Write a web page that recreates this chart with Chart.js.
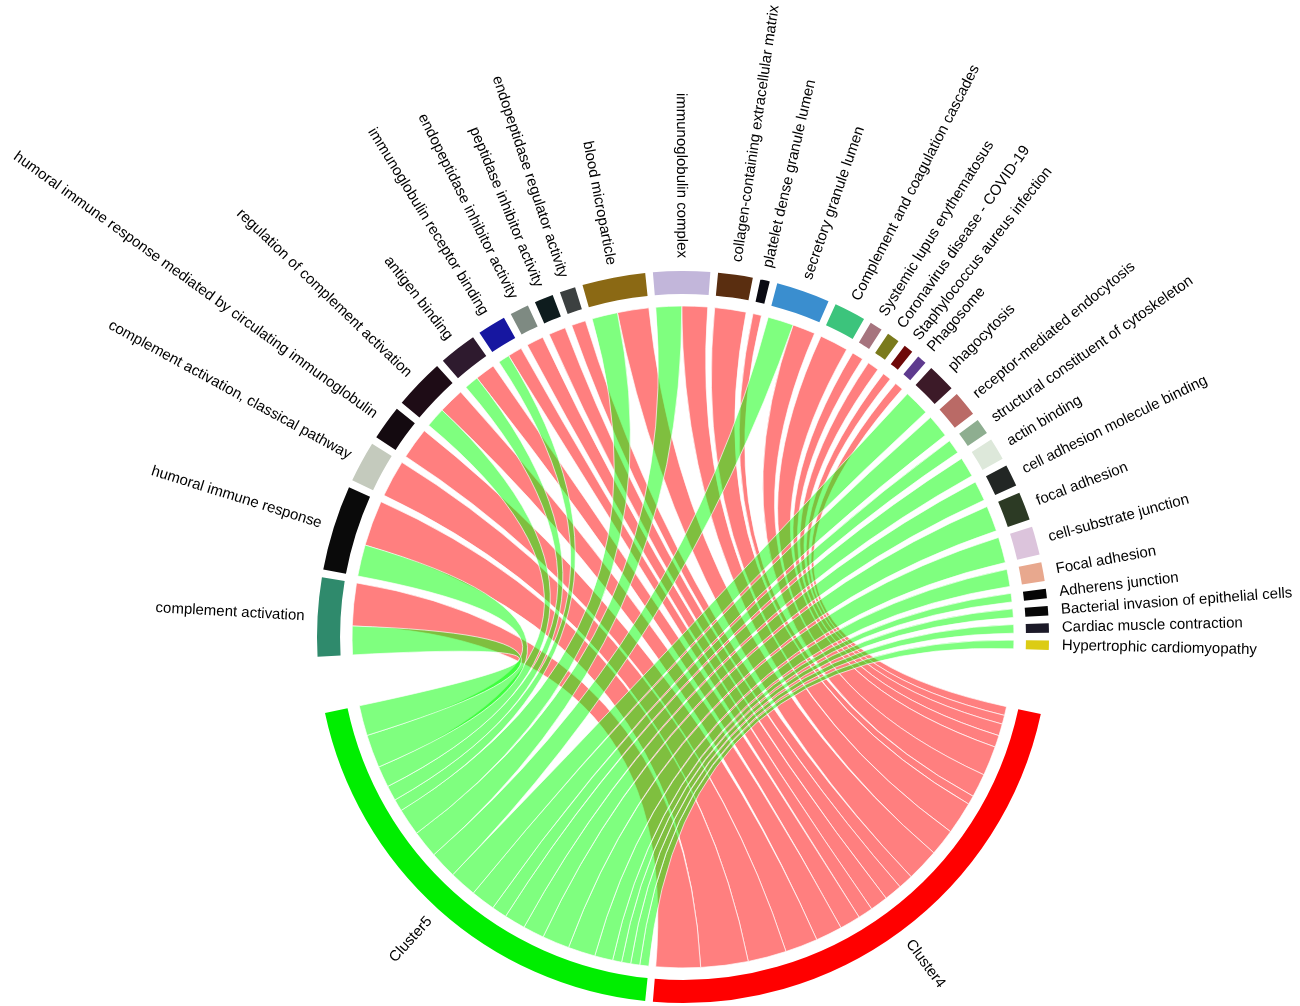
<!DOCTYPE html>
<html>
<head>
<meta charset="utf-8">
<title>Cluster enrichment chord diagram</title>
<script src="https://cdn.jsdelivr.net/npm/chart.js@4.4.1/dist/chart.umd.min.js"></script>
<style>
  html, body { margin: 0; padding: 0; background: #fff; }
  #wrap { width: 1300px; height: 1006px; position: relative; }
</style>
</head>
<body>
<div id="wrap"><canvas id="chord"></canvas></div>
<script>
// terms, clockwise from the left
const terms = [
  'complement activation',
  'humoral immune response',
  'complement activation, classical pathway',
  'humoral immune response mediated by circulating immunoglobulin',
  'regulation of complement activation',
  'antigen binding',
  'immunoglobulin receptor binding',
  'endopeptidase inhibitor activity',
  'peptidase inhibitor activity',
  'endopeptidase regulator activity',
  'blood microparticle',
  'immunoglobulin complex',
  'collagen-containing extracellular matrix',
  'platelet dense granule lumen',
  'secretory granule lumen',
  'Complement and coagulation cascades',
  'Systemic lupus erythematosus',
  'Coronavirus disease - COVID-19',
  'Staphylococcus aureus infection',
  'Phagosome',
  'phagocytosis',
  'receptor-mediated endocytosis',
  'structural constituent of cytoskeleton',
  'actin binding',
  'cell adhesion molecule binding',
  'focal adhesion',
  'cell-substrate junction',
  'Focal adhesion',
  'Adherens junction',
  'Bacterial invasion of epithelial cells',
  'Cardiac muscle contraction',
  'Hypertrophic cardiomyopathy'
];

// link sizes
const toCluster4 = [15, 16, 13, 11, 9, 7, 5, 6, 6, 5, 11, 9, 11, 3, 8, 10, 4, 4, 3, 3,
                    0, 0, 0, 0, 0, 0, 0, 0, 0, 0, 0, 0];
const toCluster5 = [10, 11, 0, 0, 7, 5, 4, 0, 0, 0, 9, 9, 0, 0, 9, 0, 0, 0, 0, 0,
                    9, 8, 5, 7, 7, 9, 9, 6, 3, 3, 3, 3];

const termColors = [
  '#2f8a6c', '#0a0a0a', '#c4cabd', '#140a10', '#1e0c16', '#2e1a2e', '#1616a0', '#7e8a82',
  '#0e1c1e', '#3c4040', '#8b6914', '#c2b6da', '#5a2e10', '#0a0a12', '#3a8ecf', '#3cc47c',
  '#a6747e', '#7a7a1c', '#6e0808', '#5e3a8e', '#3c1a28', '#ba6a66', '#8eae90', '#dde8da',
  '#222624', '#2c3a24', '#dcc4dc', '#e8a88e', '#050505', '#080808', '#1c1a28', '#dccc14'
];

const clusters = ['Cluster4', 'Cluster5'];
const clusterSizes = [165, 144];
const clusterColors = ['#ff0000', '#00ee00'];
const linkColors = ['rgba(255, 0, 0, 0.5)', 'rgba(0, 255, 0, 0.5)'];

const START_DEG = 176.9;   // where the first term begins (canvas angle)
const GAP_DEG = 1.21;
const GAP_RIGHT_DEG = 10.1;
const GAP_LEFT_DEG = 8.9;

// build the slices of the ring, spacer slices are transparent
const termTotals = terms.map((t, i) => toCluster4[i] + toCluster5[i]);
const valueSum = termTotals.reduce((a, b) => a + b, 0) + clusterSizes[0] + clusterSizes[1];
const gapSum = GAP_DEG * terms.length + GAP_RIGHT_DEG + GAP_LEFT_DEG;
const unitsPerDeg = valueSum / (360 - gapSum);

const sliceData = [];
const sliceColors = [];
const termSlice = [];
const clusterSlice = [];

function pushGap(deg) {
  sliceData.push(deg * unitsPerDeg);
  sliceColors.push('rgba(0,0,0,0)');
}

terms.forEach((t, i) => {
  termSlice.push(sliceData.length);
  sliceData.push(termTotals[i]);
  sliceColors.push(termColors[i]);
  if (i < terms.length - 1) pushGap(GAP_DEG);
});
pushGap(GAP_RIGHT_DEG);
clusterSlice.push(sliceData.length);
sliceData.push(clusterSizes[0]);
sliceColors.push(clusterColors[0]);
pushGap(GAP_DEG);
clusterSlice.push(sliceData.length);
sliceData.push(clusterSizes[1]);
sliceColors.push(clusterColors[1]);
pushGap(GAP_LEFT_DEG);

function ribbon(ctx, cx, cy, r, a0, a1, b0, b1) {
  ctx.beginPath();
  ctx.arc(cx, cy, r, a0, a1);
  ctx.quadraticCurveTo(cx, cy, cx + r * Math.cos(b0), cy + r * Math.sin(b0));
  ctx.arc(cx, cy, r, b0, b1);
  ctx.quadraticCurveTo(cx, cy, cx + r * Math.cos(a0), cy + r * Math.sin(a0));
  ctx.closePath();
}

const chordPlugin = {
  id: 'chord',
  beforeDatasetsDraw(chart) {
    const arcs = chart.getDatasetMeta(0).data;
    const ctx = chart.ctx;
    const cx = arcs[0].x, cy = arcs[0].y;
    const r = arcs[0].innerRadius - 12;

    // ends on the term side: green part first, then red
    const ends = terms.map((t, i) => {
      const arc = arcs[termSlice[i]];
      const per = (arc.endAngle - arc.startAngle) / termTotals[i];
      const g0 = arc.startAngle, g1 = g0 + toCluster5[i] * per;
      const r1 = g1 + toCluster4[i] * per;
      return { green: [g0, g1], red: [g1, r1] };
    });

    // ends on the cluster side, terms taken in reverse order
    const links = [[], []];
    [toCluster4, toCluster5].forEach((vals, c) => {
      const arc = arcs[clusterSlice[c]];
      const tot = vals.reduce((a, b) => a + b, 0);
      const per = (arc.endAngle - arc.startAngle) / tot;
      let b = arc.startAngle;
      for (let i = terms.length - 1; i >= 0; i--) {
        if (!vals[i]) continue;
        const a = c === 0 ? ends[i].red : ends[i].green;
        links[c].push([a[0], a[1], b, b + vals[i] * per]);
        b += vals[i] * per;
      }
    });

    ctx.save();
    ctx.lineWidth = 0.9;
    ctx.strokeStyle = 'rgba(255,255,255,0.75)';
    [0, 1].forEach(c => {
      ctx.fillStyle = linkColors[c];
      links[c].forEach(l => {
        ribbon(ctx, cx, cy, r, l[0], l[1], l[2], l[3]);
        ctx.fill();
        ctx.stroke();
      });
    });
    ctx.restore();
  },
  afterDatasetsDraw(chart) {
    const arcs = chart.getDatasetMeta(0).data;
    const ctx = chart.ctx;
    const cx = arcs[0].x, cy = arcs[0].y;
    const lr = arcs[0].outerRadius + 13;
    const labels = terms.map((t, i) => [t, arcs[termSlice[i]]])
      .concat(clusters.map((c, j) => [c, arcs[clusterSlice[j]]]));

    ctx.save();
    ctx.font = '15px "Liberation Sans", Arial, sans-serif';
    ctx.fillStyle = '#000';
    ctx.textBaseline = 'middle';
    labels.forEach(([text, arc]) => {
      const mid = (arc.startAngle + arc.endAngle) / 2;
      const deg = ((mid * 180 / Math.PI) % 360 + 360) % 360;
      ctx.save();
      ctx.translate(cx, cy);
      if (deg > 90 && deg <= 270) {
        ctx.rotate(mid + Math.PI);
        ctx.textAlign = 'right';
        ctx.fillText(text, -lr, 0);
      } else {
        ctx.rotate(mid);
        ctx.textAlign = 'left';
        ctx.fillText(text, lr, 0);
      }
      ctx.restore();
    });
    ctx.restore();
  }
};

new Chart(document.getElementById('chord'), {
  type: 'doughnut',
  data: {
    labels: sliceData.map((v, i) => i),
    datasets: [{
      data: sliceData,
      backgroundColor: sliceColors,
      borderWidth: 0,
      hoverOffset: 0
    }]
  },
  options: {
    responsive: true,
    maintainAspectRatio: false,
    animation: false,
    events: [],
    rotation: START_DEG + 90,
    cutout: '93.7%',
    layout: { padding: { left: 317, right: 251, top: 271, bottom: 3 } },
    plugins: {
      legend: { display: false },
      tooltip: { enabled: false }
    }
  },
  plugins: [chordPlugin]
});
</script>
</body>
</html>
